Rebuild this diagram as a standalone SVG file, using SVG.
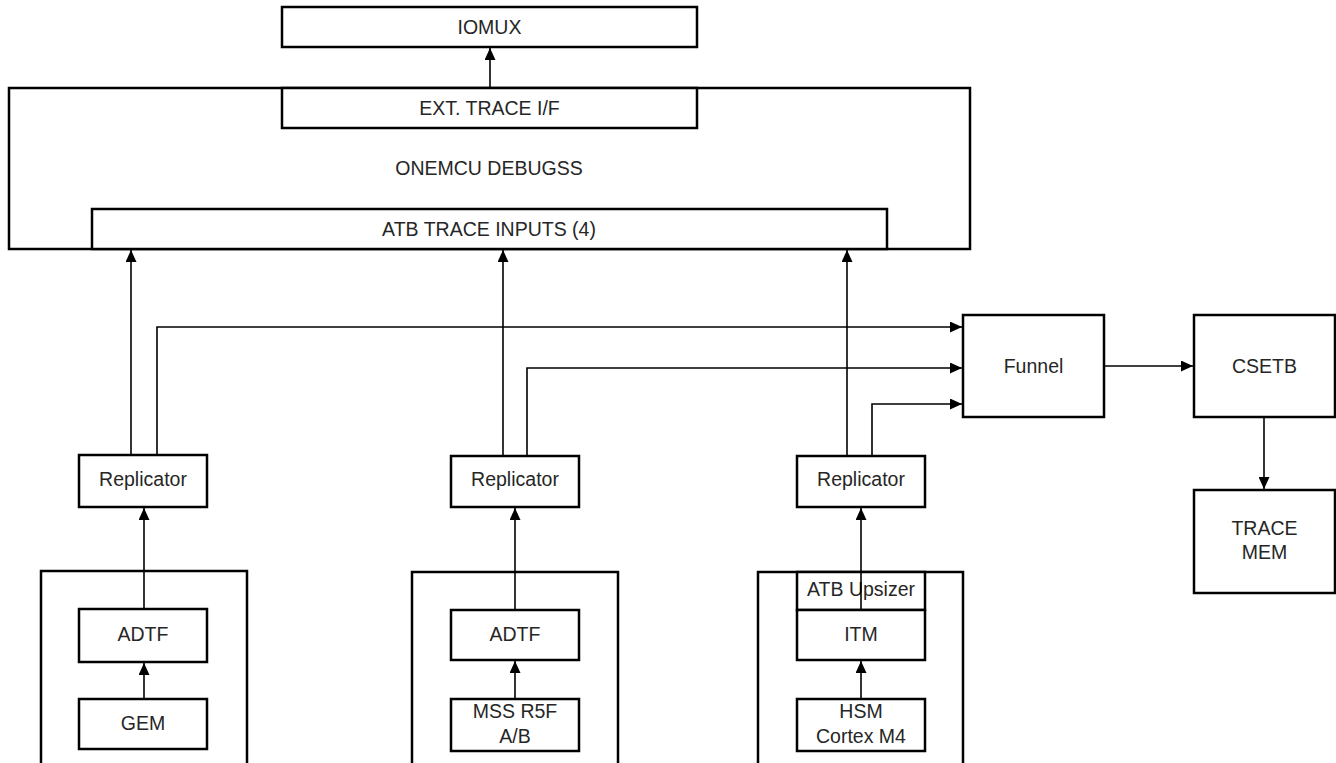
<svg xmlns="http://www.w3.org/2000/svg" width="1336" height="763" viewBox="0 0 1336 763">
  <style>
    .box { fill: #ffffff; stroke: #000000; stroke-width: 2.5; }
    .grp { fill: none; stroke: #000000; stroke-width: 2.5; }
    .lbl { font-family: "Liberation Sans", Arial, sans-serif; font-size: 19.5px; fill: #262626; text-anchor: middle; }
    .conn { fill: none; stroke: #000000; stroke-width: 1.6; }
    .arr { marker-end: url(#ah); }
  </style>
  <defs>
    <marker id="ah" markerUnits="userSpaceOnUse" markerWidth="12" markerHeight="11" refX="12" refY="5.5" orient="auto">
      <path d="M0,0 L12,5.5 L0,11 Z" fill="#000000"/>
    </marker>
  </defs>
  <rect width="1336" height="763" fill="#ffffff"/>

  <g id="iomux">
    <rect class="box" x="282" y="7" width="415" height="40"/>
    <text class="lbl" x="489.5" y="34">IOMUX</text>
  </g>

  <g id="debugss">
    <rect class="box" x="9" y="88" width="961" height="161"/>
    <text class="lbl" x="489" y="175">ONEMCU DEBUGSS</text>
  </g>

  <g id="ext-trace">
    <rect class="box" x="282" y="88" width="415" height="40"/>
    <text class="lbl" x="489.5" y="115">EXT. TRACE I/F</text>
  </g>

  <g id="atb-inputs">
    <rect class="box" x="92" y="209" width="795" height="40"/>
    <text class="lbl" x="489" y="236">ATB TRACE INPUTS (4)</text>
  </g>

  <g id="funnel">
    <rect class="box" x="963" y="315" width="141" height="102"/>
    <text class="lbl" x="1033.5" y="373">Funnel</text>
  </g>

  <g id="csetb">
    <rect class="box" x="1194" y="315" width="141" height="102"/>
    <text class="lbl" x="1264.5" y="373">CSETB</text>
  </g>

  <g id="trace-mem">
    <rect class="box" x="1194" y="490" width="141" height="103"/>
    <text class="lbl" x="1264.5" y="535">TRACE</text>
    <text class="lbl" x="1264.5" y="559">MEM</text>
  </g>

  <g id="replicator-1">
    <rect class="box" x="79" y="455" width="128" height="52"/>
    <text class="lbl" x="143" y="486">Replicator</text>
  </g>
  <g id="replicator-2">
    <rect class="box" x="451" y="456" width="128" height="51"/>
    <text class="lbl" x="515" y="486">Replicator</text>
  </g>
  <g id="replicator-3">
    <rect class="box" x="797" y="456" width="128" height="51"/>
    <text class="lbl" x="861" y="486">Replicator</text>
  </g>

  <g id="gem-cluster">
    <rect class="grp" x="41" y="571" width="206" height="220"/>
  </g>
  <g id="adtf-1">
    <rect class="box" x="79" y="609" width="128" height="53"/>
    <text class="lbl" x="143" y="641">ADTF</text>
  </g>
  <g id="gem">
    <rect class="box" x="79" y="699" width="128" height="50"/>
    <text class="lbl" x="143" y="730">GEM</text>
  </g>

  <g id="mss-cluster">
    <rect class="grp" x="412" y="572" width="206" height="220"/>
  </g>
  <g id="adtf-2">
    <rect class="box" x="451" y="610" width="128" height="50"/>
    <text class="lbl" x="515" y="641">ADTF</text>
  </g>
  <g id="mss-r5f">
    <rect class="box" x="451" y="699" width="128" height="52"/>
    <text class="lbl" x="515" y="718">MSS R5F</text>
    <text class="lbl" x="515" y="743">A/B</text>
  </g>

  <g id="hsm-cluster">
    <rect class="grp" x="758" y="572" width="205" height="220"/>
  </g>
  <g id="atb-upsizer">
    <rect class="box" x="797" y="572" width="128" height="38"/>
    <text class="lbl" x="861" y="596">ATB Upsizer</text>
  </g>
  <g id="itm">
    <rect class="box" x="797" y="610" width="128" height="50"/>
    <text class="lbl" x="861" y="641">ITM</text>
  </g>
  <g id="hsm">
    <rect class="box" x="797" y="699" width="128" height="52"/>
    <text class="lbl" x="861" y="718">HSM</text>
    <text class="lbl" x="861" y="743">Cortex M4</text>
  </g>

  <g id="connectors">
    <line class="conn arr" x1="490" y1="88" x2="490" y2="48"/>
    <line class="conn arr" x1="131" y1="455" x2="131" y2="250"/>
    <line class="conn arr" x1="503" y1="456" x2="503" y2="250"/>
    <line class="conn arr" x1="847" y1="456" x2="847" y2="250"/>
    <polyline class="conn arr" points="157,455 157,327 962,327"/>
    <polyline class="conn arr" points="527,456 527,368 962,368"/>
    <polyline class="conn arr" points="872,456 872,404 962,404"/>
    <line class="conn arr" x1="1104" y1="366" x2="1193" y2="366"/>
    <line class="conn arr" x1="1264" y1="417" x2="1264" y2="489"/>
    <line class="conn arr" x1="144" y1="609" x2="144" y2="508"/>
    <line class="conn arr" x1="144" y1="699" x2="144" y2="663"/>
    <line class="conn arr" x1="515" y1="610" x2="515" y2="508"/>
    <line class="conn arr" x1="515" y1="699" x2="515" y2="661"/>
    <line class="conn arr" x1="861" y1="610" x2="861" y2="508"/>
    <line class="conn arr" x1="861" y1="699" x2="861" y2="661"/>
  </g>
</svg>
